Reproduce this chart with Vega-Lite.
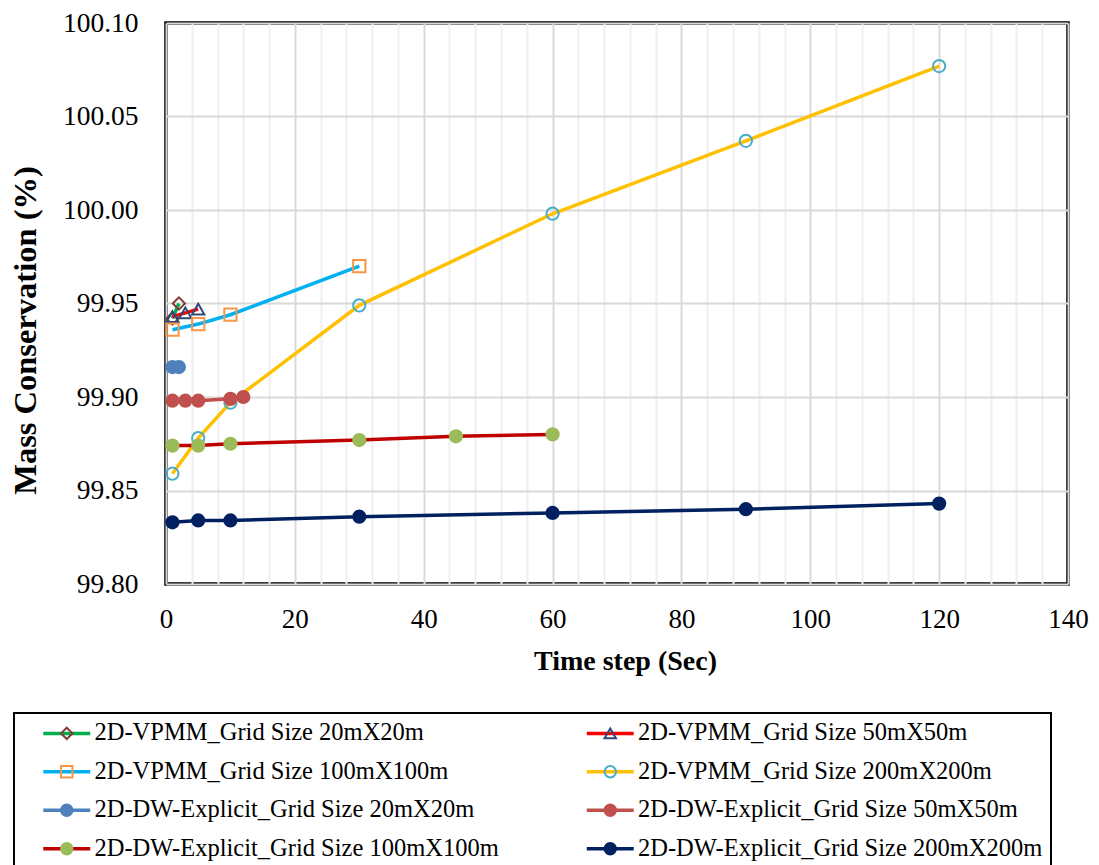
{
  "$schema": "https://vega.github.io/schema/vega-lite/v6.json",
  "width": 902,
  "height": 561,
  "autosize": {"type": "none"},
  "padding": {"left": 166, "top": 23, "right": 31, "bottom": 281},
  "background": "white",
  "config": {
    "font": "Liberation Serif",
    "view": {"stroke": "black", "strokeWidth": 3.5},
    "axis": {"labelFont": "Liberation Serif", "titleFont": "Liberation Serif", "labelColor": "black", "titleColor": "black", "ticks": false, "domain": false},
    "legend": {"strokeWidth": 2}
  },
  "data": {
    "values": [
      {"series": "2D-VPMM_Grid Size 20mX20m", "t": 1, "mc": 99.942},
      {"series": "2D-VPMM_Grid Size 20mX20m", "t": 2, "mc": 99.950},
      {"series": "2D-VPMM_Grid Size 50mX50m", "t": 1, "mc": 99.943},
      {"series": "2D-VPMM_Grid Size 50mX50m", "t": 3, "mc": 99.945},
      {"series": "2D-VPMM_Grid Size 50mX50m", "t": 5, "mc": 99.947},
      {"series": "2D-VPMM_Grid Size 100mX100m", "t": 1, "mc": 99.936},
      {"series": "2D-VPMM_Grid Size 100mX100m", "t": 5, "mc": 99.939},
      {"series": "2D-VPMM_Grid Size 100mX100m", "t": 10, "mc": 99.944},
      {"series": "2D-VPMM_Grid Size 100mX100m", "t": 30, "mc": 99.970},
      {"series": "2D-VPMM_Grid Size 200mX200m", "t": 1, "mc": 99.859},
      {"series": "2D-VPMM_Grid Size 200mX200m", "t": 5, "mc": 99.878},
      {"series": "2D-VPMM_Grid Size 200mX200m", "t": 10, "mc": 99.897},
      {"series": "2D-VPMM_Grid Size 200mX200m", "t": 30, "mc": 99.949},
      {"series": "2D-VPMM_Grid Size 200mX200m", "t": 60, "mc": 99.998},
      {"series": "2D-VPMM_Grid Size 200mX200m", "t": 90, "mc": 100.037},
      {"series": "2D-VPMM_Grid Size 200mX200m", "t": 120, "mc": 100.077},
      {"series": "2D-DW-Explicit_Grid Size 20mX20m", "t": 1, "mc": 99.916},
      {"series": "2D-DW-Explicit_Grid Size 20mX20m", "t": 2, "mc": 99.916},
      {"series": "2D-DW-Explicit_Grid Size 50mX50m", "t": 1, "mc": 99.898},
      {"series": "2D-DW-Explicit_Grid Size 50mX50m", "t": 3, "mc": 99.898},
      {"series": "2D-DW-Explicit_Grid Size 50mX50m", "t": 5, "mc": 99.898},
      {"series": "2D-DW-Explicit_Grid Size 50mX50m", "t": 10, "mc": 99.899},
      {"series": "2D-DW-Explicit_Grid Size 50mX50m", "t": 12, "mc": 99.900},
      {"series": "2D-DW-Explicit_Grid Size 100mX100m", "t": 1, "mc": 99.874},
      {"series": "2D-DW-Explicit_Grid Size 100mX100m", "t": 5, "mc": 99.874},
      {"series": "2D-DW-Explicit_Grid Size 100mX100m", "t": 10, "mc": 99.875},
      {"series": "2D-DW-Explicit_Grid Size 100mX100m", "t": 30, "mc": 99.877},
      {"series": "2D-DW-Explicit_Grid Size 100mX100m", "t": 45, "mc": 99.879},
      {"series": "2D-DW-Explicit_Grid Size 100mX100m", "t": 60, "mc": 99.880},
      {"series": "2D-DW-Explicit_Grid Size 200mX200m", "t": 1, "mc": 99.833},
      {"series": "2D-DW-Explicit_Grid Size 200mX200m", "t": 5, "mc": 99.834},
      {"series": "2D-DW-Explicit_Grid Size 200mX200m", "t": 10, "mc": 99.834},
      {"series": "2D-DW-Explicit_Grid Size 200mX200m", "t": 30, "mc": 99.836},
      {"series": "2D-DW-Explicit_Grid Size 200mX200m", "t": 60, "mc": 99.838},
      {"series": "2D-DW-Explicit_Grid Size 200mX200m", "t": 90, "mc": 99.840},
      {"series": "2D-DW-Explicit_Grid Size 200mX200m", "t": 120, "mc": 99.843}
    ]
  },
  "encoding": {
    "x": {
      "field": "t", "type": "quantitative",
      "scale": {"domain": [0, 140], "nice": false, "zero": false},
      "axis": {
        "title": "Time step (Sec)",
        "values": [0, 4, 8, 12, 16, 20, 24, 28, 32, 36, 40, 44, 48, 52, 56, 60, 64, 68, 72, 76, 80, 84, 88, 92, 96, 100, 104, 108, 112, 116, 120, 124, 128, 132, 136, 140],
        "labelExpr": "datum.value % 20 === 0 ? datum.label : ''",
        "labelFontSize": 27,
        "labelPadding": 22,
        "labelFlush": false,
        "labelOverlap": false,
        "grid": true,
        "gridColor": {"condition": {"test": "datum.value % 20 === 0", "value": "#d9d9d9"}, "value": "#efefef"},
        "gridWidth": 2,
        "titleFontSize": 28,
        "titleFontWeight": "bold",
        "titleX": 459,
        "titleY": 85,
        "titleBaseline": "alphabetic",
        "titleAlign": "center"
      }
    },
    "y": {
      "field": "mc", "type": "quantitative",
      "scale": {"domain": [99.8, 100.1], "nice": false, "zero": false},
      "axis": {
        "title": "Mass Conservation (%)",
        "values": [99.8, 99.85, 99.9, 99.95, 100.0, 100.05, 100.1],
        "format": ".2f",
        "labelFontSize": 27.5,
        "labelPadding": 28,
        "grid": true,
        "gridColor": "#d9d9d9",
        "gridWidth": 2,
        "titleFontSize": 32.5,
        "titleFontWeight": "bold",
        "titleAngle": -90,
        "titleX": -141,
        "titleY": 307,
        "titleBaseline": "middle",
        "titleAlign": "center"
      }
    }
  },
  "layer": [
    {
      "mark": {"type": "line", "strokeWidth": 3.5},
      "encoding": {
        "color": {
          "field": "series", "type": "nominal",
          "scale": {
            "domain": ["2D-VPMM_Grid Size 20mX20m", "2D-VPMM_Grid Size 50mX50m", "2D-VPMM_Grid Size 100mX100m", "2D-VPMM_Grid Size 200mX200m", "2D-DW-Explicit_Grid Size 20mX20m", "2D-DW-Explicit_Grid Size 50mX50m", "2D-DW-Explicit_Grid Size 100mX100m", "2D-DW-Explicit_Grid Size 200mX200m"],
            "range": ["#00B050", "#FF0000", "#00B0F0", "#FFC000", "#4F81BD", "#C0504D", "#C00000", "#002060"]
          },
          "legend": {
            "title": null, "orient": "none", "direction": "horizontal", "legendX": -152, "legendY": 690, "columns": 2,
            "symbolType": "M-3,0H3", "symbolSize": 245, "symbolStrokeWidth": 3.5,
            "labelFont": "Liberation Serif", "labelFontSize": 24.5, "labelColor": "black", "labelLimit": 700, "labelOffset": 15.5,
            "rowPadding": 13.5, "columnPadding": 66.5, "padding": 8, "symbolOffset": 32.5,
            "strokeColor": "black", "fillColor": "white"
          }
        }
      }
    },
    {
      "mark": {"type": "point", "size": 150, "strokeWidth": 2, "opacity": 1, "filled": true},
      "encoding": {
        "shape": {
          "field": "series", "type": "nominal", "sort": null,
          "scale": {"range": ["diamond", "triangle-up", "square", "circle", "circle", "circle", "circle", "circle"]},
          "legend": {
            "title": null, "orient": "none", "direction": "horizontal", "legendX": -152, "legendY": 690, "columns": 2,
            "symbolSize": 130, "symbolStrokeWidth": 2,
            "labelExpr": "''", "labelFontSize": 24.5, "labelOffset": 0,
            "rowPadding": 13.5, "columnPadding": 486.5, "padding": 8, "symbolOffset": 32.5
          }
        },
        "fill": {
          "field": "series", "type": "nominal", "sort": null,
          "scale": {"range": ["transparent", "transparent", "transparent", "transparent", "#4F81BD", "#C0504D", "#9BBB59", "#002060"]},
          "legend": {
            "title": null, "orient": "none", "direction": "horizontal", "legendX": -152, "legendY": 690, "columns": 2,
            "symbolSize": 130, "symbolStrokeWidth": 2,
            "labelExpr": "''", "labelFontSize": 24.5, "labelOffset": 0,
            "rowPadding": 13.5, "columnPadding": 486.5, "padding": 8, "symbolOffset": 32.5
          }
        },
        "stroke": {
          "field": "series", "type": "nominal", "sort": null,
          "scale": {"range": ["#843C39", "#2E4A7A", "#F79646", "#4BACC6", "#4F81BD", "#C0504D", "#9BBB59", "#002060"]},
          "legend": {
            "title": null, "orient": "none", "direction": "horizontal", "legendX": -152, "legendY": 690, "columns": 2,
            "symbolSize": 130, "symbolStrokeWidth": 2,
            "labelExpr": "''", "labelFontSize": 24.5, "labelOffset": 0,
            "rowPadding": 13.5, "columnPadding": 486.5, "padding": 8, "symbolOffset": 32.5
          }
        }
      }
    }
  ]
}
